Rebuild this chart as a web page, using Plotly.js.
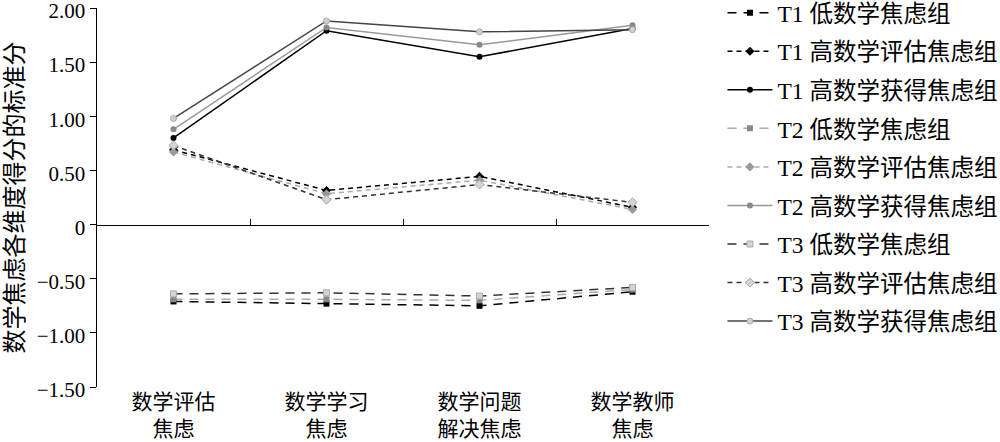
<!DOCTYPE html>
<html><head><meta charset="utf-8">
<script src="https://cdn.plot.ly/plotly-3.0.1.min.js"></script>
<style>body{margin:0;background:#fff}#c{width:1000px;height:442px}</style>
</head><body><div id="c"></div>
<script>
const categories = ['数学评估<br>焦虑', '数学学习<br>焦虑', '数学问题<br>解决焦虑', '数学教师<br>焦虑'];
const seriesNames = ['T1 低数学焦虑组','T1 高数学评估焦虑组','T1 高数学获得焦虑组','T2 低数学焦虑组','T2 高数学评估焦虑组','T2 高数学获得焦虑组','T3 低数学焦虑组','T3 高数学评估焦虑组','T3 高数学获得焦虑组'];
const t1Low  = [-0.71, -0.73, -0.75, -0.62];
const t1Eval = [0.69, 0.315, 0.445, 0.16];
const t1Acq  = [0.80, 1.79, 1.55, 1.81];
const t2Low  = [-0.69, -0.69, -0.70, -0.60];
const t2Eval = [0.67, 0.285, 0.41, 0.14];
const t2Acq  = [0.88, 1.82, 1.66, 1.84];
const t3Low  = [-0.64, -0.63, -0.66, -0.58];
const t3Eval = [0.73, 0.23, 0.37, 0.205];
const t3Acq  = [0.98, 1.88, 1.78, 1.80];
const yTickVals = [2, 1.5, 1, 0.5, 0, -0.5, -1, -1.5];
const yTickText = ['2.00','1.50','1.00','0.50','0','\u22120.50','\u22121.00','\u22121.50'];
const boundaryTicks = [0.5, 1.5, 2.5];

const data = [t1Low,t1Eval,t1Acq,t2Low,t2Eval,t2Acq,t3Low,t3Eval,t3Acq];
const lineColors = ['#000','#000','#000','#aaa','#aaa','#999','#333','#333','#444'];
const markerColors = ['#000','#000','#000','#888','#999','#888','#d4d4d4','#d4d4d4','#d0d0d0'];
const markerLine = ['#000','#000','#000','#888','#999','#888','#aaa','#aaa','#aaa'];
const symbols = ['square','diamond','circle','square','diamond','circle','square','diamond','circle'];
const dashes = ['9px,7px','5px,4px','solid','9px,7px','5px,4px','solid','9px,7px','5px,4px','solid'];

const xIdx = categories.map((_, i) => i);
const traces = data.map((ys, i) => ({
  type: 'scatter', mode: 'lines+markers', x: xIdx, y: ys, name: seriesNames[i],
  legendgroup: 'g' + i,
  line: {color: lineColors[i], width: 1.5, dash: dashes[i]},
  marker: {symbol: symbols[i], size: i % 3 === 1 ? 7 : 6, color: markerColors[i], line: {color: markerLine[i], width: i >= 6 ? 1 : 0}}
}));
traces.push({type:'scatter', x:[0], y:[0], xaxis:'x2', mode:'markers', marker:{opacity:0}, showlegend:false, hoverinfo:'skip'});

const fam = '"Liberation Serif", "Noto Sans CJK SC", serif';
const font = {family: fam, size: 21, color: '#000'};
const layout = {
  width: 1000, height: 442,
  margin: {l: 97, r: 291, t: 8, b: 55, autoexpand: false},
  paper_bgcolor: '#fff', plot_bgcolor: '#fff',
  font: font,
  showlegend: true,
  legend: {x: 1.022, y: 1.045, xanchor: 'left', yanchor: 'top', tracegroupgap: 5, maxheight: 440, itemwidth: 45,
           font: {family: fam, size: 23.5, color: '#000'}, bgcolor: 'rgba(0,0,0,0)'},
  xaxis: {
    range: [-0.5, 3.5], tickvals: xIdx, ticktext: categories, showline: false, showgrid: false,
    zeroline: false, ticks: '', tickfont: {family: fam, size: 21, color: '#000'}, fixedrange: true,
    ticklabelstandoff: 0
  },
  xaxis2: {
    overlaying: 'x', anchor: 'free', position: 1.5/3.5, range: [-0.5, 3.5], side: 'bottom',
    tickvals: boundaryTicks, showticklabels: false, ticks: 'inside', ticklen: 6, tickcolor: '#000',
    showline: true, linecolor: '#000', linewidth: 1.5, showgrid: false, zeroline: false
  },
  yaxis: {
    range: [-1.5, 2.0], tickvals: yTickVals, ticktext: yTickText, showgrid: false, zeroline: false,
    showline: true, linecolor: '#000', linewidth: 1.5, ticks: 'outside', ticklen: 6, tickcolor: '#000',
    tickfont: font, ticklabeloverflow: 'allow', ticklabelshift: 3,
    title: {text: '数学焦虑各维度得分的标准分', font: {family: fam, size: 24, color: '#000'}, standoff: 6}
  }
};
Plotly.newPlot('c', traces, layout, {displayModeBar: false, staticPlot: true});
</script>
</body></html>
